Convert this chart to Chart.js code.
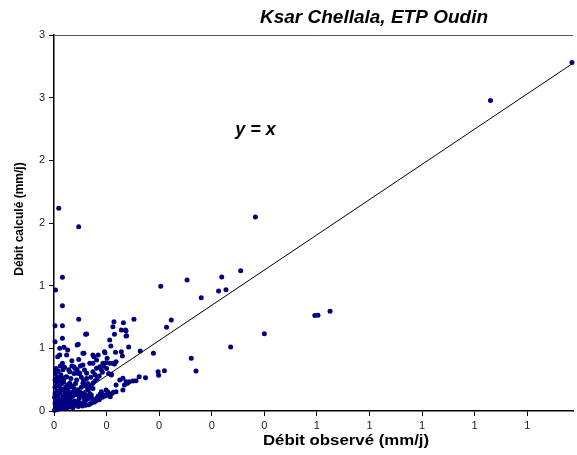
<!DOCTYPE html>
<html>
<head>
<meta charset="utf-8">
<script src="https://cdn.jsdelivr.net/npm/chart.js@4.4.1/dist/chart.umd.min.js"></script>
<style>
  html, body { margin: 0; padding: 0; background: #fff; }
  #wrap { width: 577px; height: 455px; }
</style>
</head>
<body>
<div id="wrap"><canvas id="scatterChart" width="577" height="455"></canvas></div>
<script>
let obsX = [
  0.985, 0.830, 0.383, 0.009, 0.047, 0.016, 0.203, 0.253, 0.319, 0.355,
  0.313, 0.327, 0.280, 0.223, 0.214, 0.189, 0.400, 0.336, 0.261, 0.270,
  0.210, 0.198, 0.199, 0.496, 0.502, 0.525, 0.003, 0.016, 0.047, 0.002,
  0.016, 0.062, 0.002, 0.016, 0.046, 0.114, 0.112, 0.132, 0.152, 0.128,
  0.136, 0.115, 0.138, 0.106, 0.108, 0.142, 0.128, 0.130, 0.117, 0.115,
  0.109, 0.099, 0.097, 0.164, 0.060, 0.019, 0.024, 0.044, 0.055, 0.074,
  0.096, 0.011, 0.026, 0.007, 0.011, 0.057, 0.076, 0.084, 0.101, 0.016,
  0.005, 0.030, 0.038, 0.055, 0.074, 0.081, 0.093, 0.106, 0.118, 0.062,
  0.112, 0.137, 0.137, 0.174, 0.131, 0.137, 0.143, 0.150, 0.156, 0.134,
  0.140, 0.131, 0.118, 0.113, 0.107, 0.102, 0.090, 0.074, 0.068, 0.081,
  0.055, 0.071, 0.099, 0.087, 0.077, 0.058, 0.049, 0.109, 0.068, 0.081,
  0.058, 0.049, 0.074, 0.087, 0.043, 0.055, 0.036, 0.030, 0.024, 0.018,
  0.047, 0.034, 0.062, 0.066, 0.045, 0.040, 0.028, 0.002, 0.004, 0.006,
  0.008, 0.010, 0.012, 0.014, 0.003, 0.005, 0.007, 0.009, 0.011, 0.013,
  0.015, 0.017, 0.019, 0.021, 0.023, 0.025, 0.027, 0.029, 0.031, 0.033,
  0.035, 0.037, 0.039, 0.041, 0.001, 0.001, 0.002, 0.004, 0.006, 0.008,
  0.010, 0.012, 0.016, 0.020, 0.024, 0.028, 0.032, 0.036, 0.003, 0.006,
  0.009, 0.013, 0.017, 0.022, 0.026, 0.032, 0.038, 0.044, 0.050, 0.052,
  0.058, 0.048, 0.042, 0.062, 0.066, 0.046, 0.054, 0.070, 0.076, 0.060,
  0.084, 0.094, 0.088, 0.064, 0.070, 0.078, 0.092, 0.162, 0.125, 0.118,
  0.004, 0.008, 0.012, 0.020, 0.028, 0.034, 0.040, 0.046, 0.052, 0.056,
  0.060, 0.064, 0.068, 0.072, 0.080, 0.086, 0.092, 0.098, 0.104, 0.110,
  0.005, 0.010, 0.015, 0.020, 0.025, 0.030, 0.035, 0.040, 0.045, 0.050,
  0.014, 0.018, 0.022, 0.026, 0.030, 0.034, 0.038, 0.042, 0.046, 0.050,
  0.054, 0.058, 0.062, 0.066, 0.070, 0.074, 0.078, 0.082, 0.086, 0.090,
  0.094, 0.100, 0.104, 0.008, 0.016, 0.024, 0.032, 0.002, 0.002, 0.002
];
let calcY = [
  2.780, 2.477, 1.548, 1.618, 1.471, 1.067, 0.995, 1.045, 1.069, 1.120,
  0.958, 0.968, 0.904, 0.726, 0.668, 0.460, 0.617, 0.511, 0.420, 0.319,
  0.322, 0.314, 0.285, 0.761, 0.764, 0.796, 0.966, 0.840, 0.732, 0.681,
  0.681, 0.615, 0.553, 0.580, 0.532, 0.713, 0.673, 0.705, 0.732, 0.646,
  0.646, 0.612, 0.601, 0.567, 0.519, 0.511, 0.473, 0.439, 0.468, 0.375,
  0.293, 0.385, 0.465, 0.479, 0.612, 0.508, 0.447, 0.527, 0.460, 0.447,
  0.473, 0.500, 0.487, 0.433, 0.447, 0.460, 0.433, 0.447, 0.420, 0.380,
  0.314, 0.314, 0.354, 0.367, 0.380, 0.341, 0.380, 0.380, 0.393, 0.301,
  0.380, 0.641, 0.599, 0.266, 0.261, 0.234, 0.234, 0.239, 0.242, 0.207,
  0.221, 0.168, 0.154, 0.149, 0.114, 0.154, 0.154, 0.221, 0.114, 0.101,
  0.066, 0.128, 0.168, 0.101, 0.088, 0.069, 0.061, 0.287, 0.380, 0.407,
  0.327, 0.301, 0.314, 0.354, 0.247, 0.221, 0.194, 0.221, 0.274, 0.247,
  0.410, 0.400, 0.260, 0.180, 0.170, 0.130, 0.150, 0.250, 0.200, 0.160,
  0.120, 0.090, 0.060, 0.040, 0.030, 0.080, 0.050, 0.020, 0.140, 0.180,
  0.220, 0.110, 0.070, 0.160, 0.050, 0.120, 0.090, 0.190, 0.060, 0.110,
  0.150, 0.040, 0.080, 0.220, 0.110, 0.005, 0.010, 0.015, 0.010, 0.030,
  0.035, 0.025, 0.020, 0.030, 0.025, 0.030, 0.035, 0.025, 0.300, 0.270,
  0.240, 0.290, 0.330, 0.270, 0.210, 0.260, 0.300, 0.330, 0.360, 0.190,
  0.140, 0.100, 0.060, 0.090, 0.050, 0.035, 0.040, 0.060, 0.070, 0.045,
  0.120, 0.130, 0.135, 0.220, 0.270, 0.290, 0.310, 0.274, 0.247, 0.207,
  0.340, 0.320, 0.360, 0.350, 0.330, 0.360, 0.340, 0.300, 0.270, 0.240,
  0.200, 0.170, 0.140, 0.100, 0.080, 0.090, 0.110, 0.120, 0.130, 0.140,
  0.230, 0.200, 0.170, 0.140, 0.100, 0.080, 0.070, 0.050, 0.080, 0.060,
  0.270, 0.230, 0.190, 0.160, 0.130, 0.200, 0.180, 0.150, 0.130, 0.150,
  0.120, 0.100, 0.120, 0.100, 0.200, 0.180, 0.240, 0.260, 0.280, 0.330,
  0.360, 0.340, 0.300, 0.070, 0.090, 0.070, 0.045, 0.060, 0.140, 0.190
];

// the reference line, as drawn in the picture
let lineX = [0, 0.987];
let lineY = [0, 2.775];

let xTicks = { min: 0, max: 0.987, step: 0.1 };
let yTicks = { min: 0, max: 3, step: 0.5 };

let chartTitle = "Ksar Chellala, ETP Oudin";
let xTitle = "Débit observé (mm/j)";
let yTitle = "Débit calculé (mm/j)";
let lineLabel = "y = x";

let points = obsX.map((x, i) => ({ x: x, y: calcY[i] }));
let linePts = lineX.map((x, i) => ({ x: x, y: lineY[i] }));

let extras = {
  id: 'extras',
  afterDraw(chart) {
    let c = chart.ctx;
    let a = chart.chartArea;
    let sx = chart.scales.x, sy = chart.scales.y;
    c.save();
    // top frame line
    c.strokeStyle = '#555';
    c.lineWidth = 1;
    c.beginPath();
    c.moveTo(a.left, a.top + 0.5);
    c.lineTo(a.right, a.top + 0.5);
    c.stroke();

    c.fillStyle = '#000';
    c.textAlign = 'center';
    c.textBaseline = 'middle';
    c.font = 'italic bold 19px "Liberation Sans", Arial, sans-serif';
    c.fillText(chartTitle, 374, 18);

    c.font = 'italic bold 18px "Liberation Sans", Arial, sans-serif';
    c.fillText(lineLabel, sx.getPixelForValue(0.383), sy.getPixelForValue(2.243));

    // x title is a bit wider than its height suggests in the original
    c.save();
    c.translate(346, 441);
    c.scale(1.2, 1);
    c.font = 'bold 14px "Liberation Sans", Arial, sans-serif';
    c.fillText(xTitle, 0, 0);
    c.restore();

    c.translate(20, 219);
    c.rotate(-Math.PI / 2);
    c.font = 'bold 12px "Liberation Sans", Arial, sans-serif';
    c.fillText(yTitle, 0, 0);
    c.restore();
  }
};

let tickFont = { family: '"Liberation Sans", Arial, sans-serif', size: 11 };

new Chart(document.getElementById('scatterChart').getContext('2d'), {
  type: 'scatter',
  data: {
    datasets: [{
      label: 'Débit',
      data: points,
      backgroundColor: '#000080',
      borderColor: '#000080',
      pointRadius: 2.5,
      pointBorderWidth: 0,
      clip: false
    },
    {
      label: lineLabel,
      type: 'line',
      data: linePts,
      borderColor: '#000',
      borderWidth: 1,
      pointRadius: 0,
      fill: false,
      tension: 0
    }]
  },
  options: {
    responsive: false,
    animation: false,
    layout: { padding: { top: 35, right: 0, left: 0, bottom: 0 } },
    plugins: {
      legend: { display: false },
      title: { display: false },
      tooltip: { enabled: false }
    },
    scales: {
      x: {
        type: 'linear',
        min: xTicks.min,
        max: xTicks.max,
        afterFit: s => { s.height = 44; },
        border: { color: '#000', width: 1.5 },
        grid: { drawOnChartArea: false, drawTicks: true, tickLength: 5, color: '#000' },
        ticks: {
          stepSize: xTicks.step,
          includeBounds: false,
          autoSkip: false,
          maxRotation: 0,
          padding: 3,
          color: '#222',
          font: tickFont,
          callback: v => Math.round(v)
        }
      },
      y: {
        type: 'linear',
        min: yTicks.min,
        max: yTicks.max,
        afterFit: s => { s.width = 54; },
        border: { color: '#000', width: 1.5 },
        grid: { drawOnChartArea: false, drawTicks: true, tickLength: 5, color: '#000' },
        ticks: {
          stepSize: yTicks.step,
          autoSkip: false,
          padding: 4,
          color: '#222',
          font: tickFont,
          callback: v => Math.round(v)
        }
      }
    }
  },
  plugins: [extras]
});
</script>
</body>
</html>
